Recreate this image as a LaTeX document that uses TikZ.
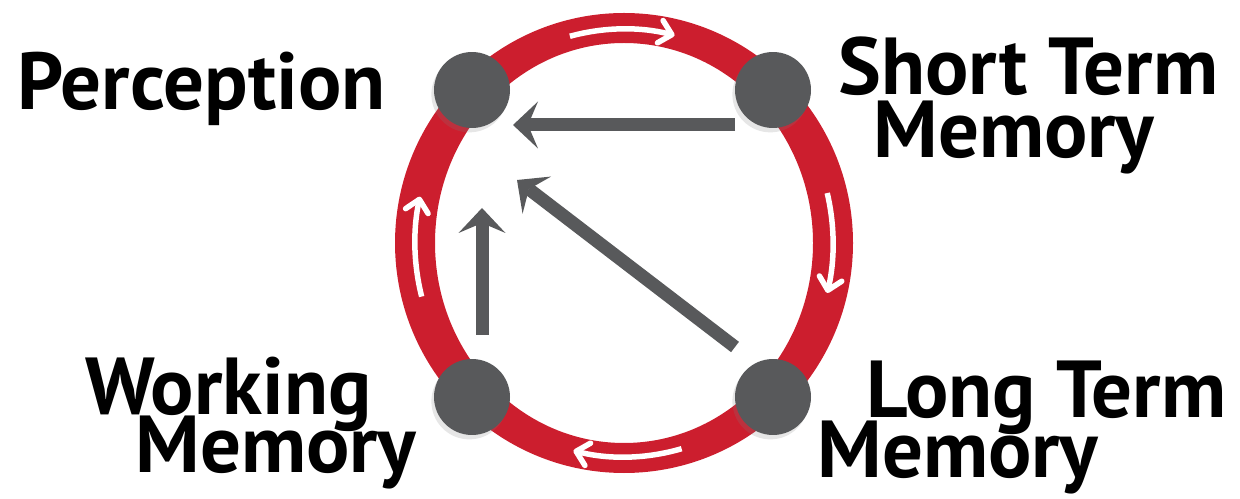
\documentclass[tikz,border=0pt]{standalone}
\usepackage{fontspec}
\setmainfont{PT Sans}
\usetikzlibrary{arrows.meta,shadows}
\definecolor{ringred}{RGB}{204,30,46}
\definecolor{dgray}{RGB}{88,89,91}
\begin{document}
\begin{tikzpicture}[x=0.02cm,y=0.02cm,
  lbl/.style={anchor=base west, inner sep=0pt, font=\fontsize{46}{52}\selectfont\bfseries, text=black},
  hub/.style={circle, fill=dgray, minimum size=1.52cm, inner sep=0pt,
    drop shadow={shadow xshift=-1.5pt, shadow yshift=-2.5pt, opacity=0.2}},
  garrow/.style={draw=dgray, line width=0.26cm,
    -{Stealth[length=0.5cm, width=0.94cm, inset=0.2cm, line width=0pt]}},
  warrow/.style={draw=white, line width=0.11cm,
    -{Straight Barb[length=0.24cm, width=0.46cm, round]}},
]
\useasboundingbox (0,0) rectangle (1240,-499);
% ring
\coordinate (ctr) at (624,-243);
\fill[ringred, even odd rule] (ctr) ellipse [x radius=229, y radius=230]
  (ctr) ellipse [x radius=189, y radius=200];
% white circulation arrows on the ring
\draw[warrow] (ctr) ++(105:209 and 214) arc[start angle=105, end angle=76, x radius=209, y radius=214];
\draw[warrow] (ctr) ++(13.5:209 and 214) arc[start angle=13.5, end angle=-13.5, x radius=209, y radius=214];
\draw[warrow] (ctr) ++(-74:209 and 214) arc[start angle=-74, end angle=-104, x radius=209, y radius=214];
\draw[warrow] (ctr) ++(194.5:209 and 214) arc[start angle=194.5, end angle=167.5, x radius=209, y radius=214];
% hubs
\node[hub] (per) at (472,-90) {};
\node[hub] (stm) at (773,-90) {};
\node[hub] (wm)  at (472,-397) {};
\node[hub] (ltm) at (773,-397) {};
% arrow end points
\coordinate (stmout) at (735,-125);
\coordinate (perin1) at (513,-125);
\coordinate (ltmout) at (735,-347);
\coordinate (perin2) at (517,-180);
\coordinate (wmout)  at (482,-335);
\coordinate (perin3) at (482,-208);
\draw[garrow] (stmout) -- (perin1);
\draw[garrow] (ltmout) -- (perin2);
\draw[garrow] (wmout) -- (perin3);
% labels
\node[lbl] (tper) at (17,-110) {Perception};
\node[lbl] (tstm1) at (838,-95) {Short Term};
\node[lbl] (tstm2) at (873,-158) {Memory};
\node[lbl] (twm1) at (85,-415) {Working};
\node[lbl] (twm2) at (135,-473) {Memory};
\node[lbl] (tltm1) at (866,-418) {Long Term};
\node[lbl] (tltm2) at (817,-478) {Memory};
\end{tikzpicture}
\end{document}
